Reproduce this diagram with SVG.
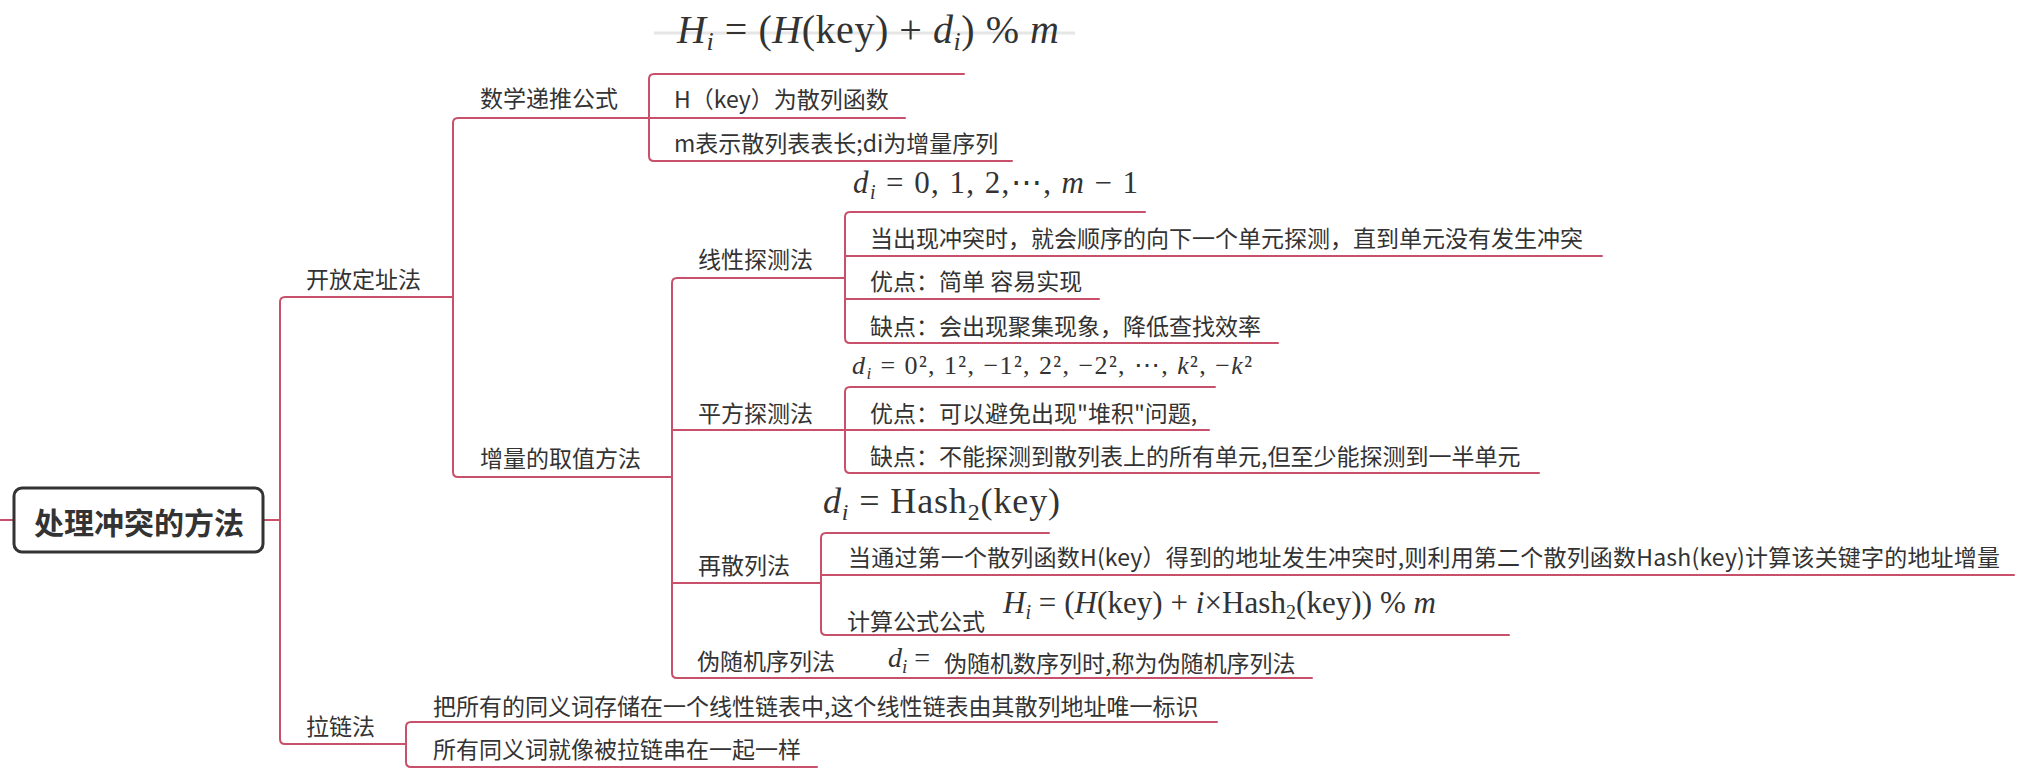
<svg xmlns="http://www.w3.org/2000/svg" width="2029" height="775" viewBox="0 0 2029 775">
<style>
.bg{fill:#ffffff}
.ln{fill:none;stroke:#c9506a;stroke-width:2;stroke-linecap:round}
.t{font-family:"Noto Sans CJK SC","Noto Sans",sans-serif;font-size:23px;fill:#333333;dominant-baseline:central}
.root{font-family:"Noto Sans CJK SC","Noto Sans",sans-serif;font-size:30px;font-weight:bold;fill:#333333;dominant-baseline:central;text-anchor:middle}
.m{font-family:"Liberation Serif","Times New Roman",serif;fill:#333333}
.it{font-style:italic}
.box{fill:#ffffff;stroke:#333333;stroke-width:3}
.haze{stroke:#dcdcdc;stroke-width:3;opacity:0.7}
</style>
<rect class="bg" x="0" y="0" width="2029" height="775"/>

<g id="connectors">
  <path class="ln" d="M0 520 H14"/>
  <path class="ln" d="M263 520 H280"/>
  <path class="ln" d="M453 297 H285 Q280 297 280 302 V739 Q280 744 285 744 H406"/>
  <path class="ln" d="M649 118 H458 Q453 118 453 123 V472 Q453 477 458 477 H672"/>
  <path class="ln" d="M845 278 H677 Q672 278 672 283 V673 Q672 678 677 678 H1312"/>
  <path class="ln" d="M672 430 H845"/>
  <path class="ln" d="M672 583 H821"/>
  <path class="ln" d="M964 74 H654 Q649 74 649 79 V156 Q649 161 654 161 H1012"/>
  <path class="ln" d="M649 118 H905"/>
  <path class="ln" d="M1145 212 H850 Q845 212 845 217 V338 Q845 343 850 343 H1278"/>
  <path class="ln" d="M845 256 H1602"/>
  <path class="ln" d="M845 299 H1099"/>
  <path class="ln" d="M1215 387 H850 Q845 387 845 392 V468 Q845 473 850 473 H1539"/>
  <path class="ln" d="M845 430 H1209"/>
  <path class="ln" d="M1049 533 H826 Q821 533 821 538 V630 Q821 635 826 635 H1509"/>
  <path class="ln" d="M821 575 H2014"/>
  <path class="ln" d="M1217 722 H411 Q406 722 406 727 V762 Q406 767 411 767 H817"/>
</g>

<g id="root">
  <rect class="box" x="14" y="488" width="249" height="64" rx="8"/>
  <text class="root" x="139" y="521">处理冲突的方法</text>
</g>

<g id="n-kaifang"><text class="t" x="306" y="278">开放定址法</text></g>
<g id="n-lalian"><text class="t" x="306" y="725">拉链法</text></g>
<g id="n-shuxue"><text class="t" x="480" y="97">数学递推公式</text></g>
<g id="n-zengliang"><text class="t" x="480" y="457">增量的取值方法</text></g>

<g id="n-formula-main">
  <line class="haze" x1="654" y1="33" x2="1075" y2="33"/>
  <text class="m" x="677" y="43" font-size="40" textLength="382" lengthAdjust="spacing"><tspan class="it">H</tspan><tspan class="it" font-size="26" dy="7">i</tspan><tspan dy="-7"> = (</tspan><tspan class="it">H</tspan><tspan>(key) + </tspan><tspan class="it">d</tspan><tspan class="it" font-size="26" dy="7">i</tspan><tspan dy="-7">) % </tspan><tspan class="it">m</tspan></text>
</g>
<g id="n-hkey"><text class="t" x="674" y="98">H（key）为散列函数</text></g>
<g id="n-mlen"><text class="t" x="674" y="142">m表示散列表表长;di为增量序列</text></g>

<g id="n-xianxing"><text class="t" x="698" y="258">线性探测法</text></g>
<g id="n-pingfang"><text class="t" x="698" y="412">平方探测法</text></g>
<g id="n-zaisanlie"><text class="t" x="698" y="564">再散列法</text></g>
<g id="n-weisuiji">
  <text class="t" x="697" y="660">伪随机序列法</text>
  <text class="m" x="888" y="667" font-size="28"><tspan class="it">d</tspan><tspan class="it" font-size="19" dy="6">i</tspan><tspan dy="-6"> =</tspan></text>
  <text class="t" x="944" y="662">伪随机数序列时,称为伪随机序列法</text>
</g>

<g id="n-f-linear">
  <text class="m" x="853" y="193" font-size="31" textLength="285" lengthAdjust="spacing"><tspan class="it">d</tspan><tspan class="it" font-size="20" dy="6">i</tspan><tspan dy="-6"> = 0, 1, 2,⋯, </tspan><tspan class="it">m</tspan><tspan> − 1</tspan></text>
</g>
<g id="n-l1"><text class="t" x="870" y="237">当出现冲突时，就会顺序的向下一个单元探测，直到单元没有发生冲突</text></g>
<g id="n-l2"><text class="t" x="870" y="280">优点：简单 容易实现</text></g>
<g id="n-l3"><text class="t" x="870" y="325">缺点：会出现聚集现象，降低查找效率</text></g>

<g id="n-f-square">
  <text class="m" x="852" y="374" font-size="26" textLength="400" lengthAdjust="spacing"><tspan class="it">d</tspan><tspan class="it" font-size="17" dy="5">i</tspan><tspan dy="-5"> = 0², 1², −1², 2², −2²,  ⋯, </tspan><tspan class="it">k</tspan><tspan>², −</tspan><tspan class="it">k</tspan><tspan>²</tspan></text>
</g>
<g id="n-s1"><text class="t" x="870" y="412">优点：可以避免出现"堆积"问题,</text></g>
<g id="n-s2"><text class="t" x="870" y="455">缺点：不能探测到散列表上的所有单元,但至少能探测到一半单元</text></g>

<g id="n-f-rehash">
  <text class="m" x="823" y="513" font-size="36" textLength="237" lengthAdjust="spacing"><tspan class="it">d</tspan><tspan class="it" font-size="24" dy="7">i</tspan><tspan dy="-7"> = Hash</tspan><tspan font-size="24" dy="7">2</tspan><tspan dy="-7">(key)</tspan></text>
</g>
<g id="n-r1"><text class="t" x="848" y="556" textLength="1152" lengthAdjust="spacing">当通过第一个散列函数H(key）得到的地址发生冲突时,则利用第二个散列函数Hash(key)计算该关键字的地址增量</text></g>
<g id="n-r2">
  <text class="t" x="847" y="620">计算公式公式</text>
  <text class="m" x="1003" y="613" font-size="31" textLength="433" lengthAdjust="spacing"><tspan class="it">H</tspan><tspan class="it" font-size="20" dy="6">i</tspan><tspan dy="-6"> = (</tspan><tspan class="it">H</tspan><tspan>(key) + </tspan><tspan class="it">i</tspan><tspan>×Hash</tspan><tspan font-size="20" dy="6">2</tspan><tspan dy="-6">(key)) % </tspan><tspan class="it">m</tspan></text>
</g>

<g id="n-c1"><text class="t" x="433" y="705">把所有的同义词存储在一个线性链表中,这个线性链表由其散列地址唯一标识</text></g>
<g id="n-c2"><text class="t" x="433" y="748">所有同义词就像被拉链串在一起一样</text></g>
</svg>
